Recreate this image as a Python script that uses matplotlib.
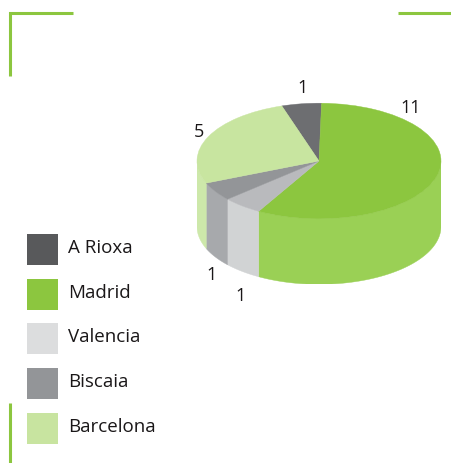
import numpy as np
import matplotlib
matplotlib.use("Agg")
import matplotlib.pyplot as plt
from matplotlib.patches import Rectangle

categories = ["A Rioxa", "Madrid", "Valencia", "Biscaia", "Barcelona"]
values = [1, 11, 1, 1, 5]
top_colors = ["#6d6e71", "#8cc63f", "#b9babd", "#939598", "#c8e5a0"]
side_colors = ["#6d6e71", "#9ad055", "#d1d3d4", "#a7a9ac", "#cde8aa"]
legend_colors = ["#58595b", "#8cc63f", "#dcddde", "#939598", "#c8e4a0"]
GREEN = "#8cc63f"
FONT = "Open Sans"
W, H = 452, 463

fig = plt.figure(figsize=(W / 100, H / 100), dpi=100, facecolor="white")
bg = fig.add_axes([0, 0, 1, 1])
bg.set_xlim(0, W)
bg.set_ylim(H, 0)
bg.axis("off")

# corner rules
bg.plot([73, 10, 10], [13, 13, 76], color=GREEN, lw=2.2, solid_joinstyle="miter", solid_capstyle="butt")
bg.plot([398, 452], [13, 13], color=GREEN, lw=2.2, solid_capstyle="butt")
bg.plot([10, 10], [403, 463], color=GREEN, lw=2.2, solid_capstyle="butt")

# pie geometry in pixels
cx, cy, rx, ry, depth = 319, 161, 122, 57.8, 65.5
d = depth / ry
left = (cx - rx) / W
bottom = 1 - (cy + ry + depth) / H
ax = fig.add_axes([left, bottom, 2 * rx / W, (2 * ry + depth) / H])
start = 90 + 360 * values[0] / sum(values) - 1.2

# side walls
edges = start - 360 * np.cumsum([0] + values) / sum(values)
for a0, a1, col in zip(edges[:-1], edges[1:], side_colors):
    for shift in (0, -360):
        lo, hi = a1 + shift, a0 + shift
        lo2, hi2 = max(lo, -180), min(hi, 0)
        if hi2 > lo2:
            t = np.radians(np.linspace(lo2, hi2, 100))
            x = np.cos(t)
            y = np.sin(t)
            ax.fill(np.r_[x, x[::-1]], np.r_[y, y[::-1] - d], color=col, lw=0.3, zorder=1)

wedges, _ = ax.pie(values, colors=top_colors, startangle=start, counterclock=False,
                   radius=1, wedgeprops={"linewidth": 0.3, "zorder": 2})
for w, c in zip(wedges, top_colors):
    w.set_edgecolor(c)
ax.set_aspect("auto")
ax.set_xlim(-1, 1)
ax.set_ylim(-1 - d, 1)
ax.axis("off")

# value labels
label_pos = [(303, 88), (411, 108), (241, 296), (212, 275), (199, 132)]
for v, (x, y) in zip(values, label_pos):
    bg.text(x, y, str(v), ha="center", va="center", fontsize=13, family=FONT, color="#1a1718")

# legend
legend_y = [234, 279, 323, 368, 413]
for name, col, y in zip(categories, legend_colors, legend_y):
    bg.add_patch(Rectangle((27, y), 31, 31, facecolor=col, edgecolor="none"))
    bg.text(68.5, y + 14, name, ha="left", va="center", fontsize=13.5, family=FONT, color="#1a1718")

fig.savefig("out.png", dpi=100)
